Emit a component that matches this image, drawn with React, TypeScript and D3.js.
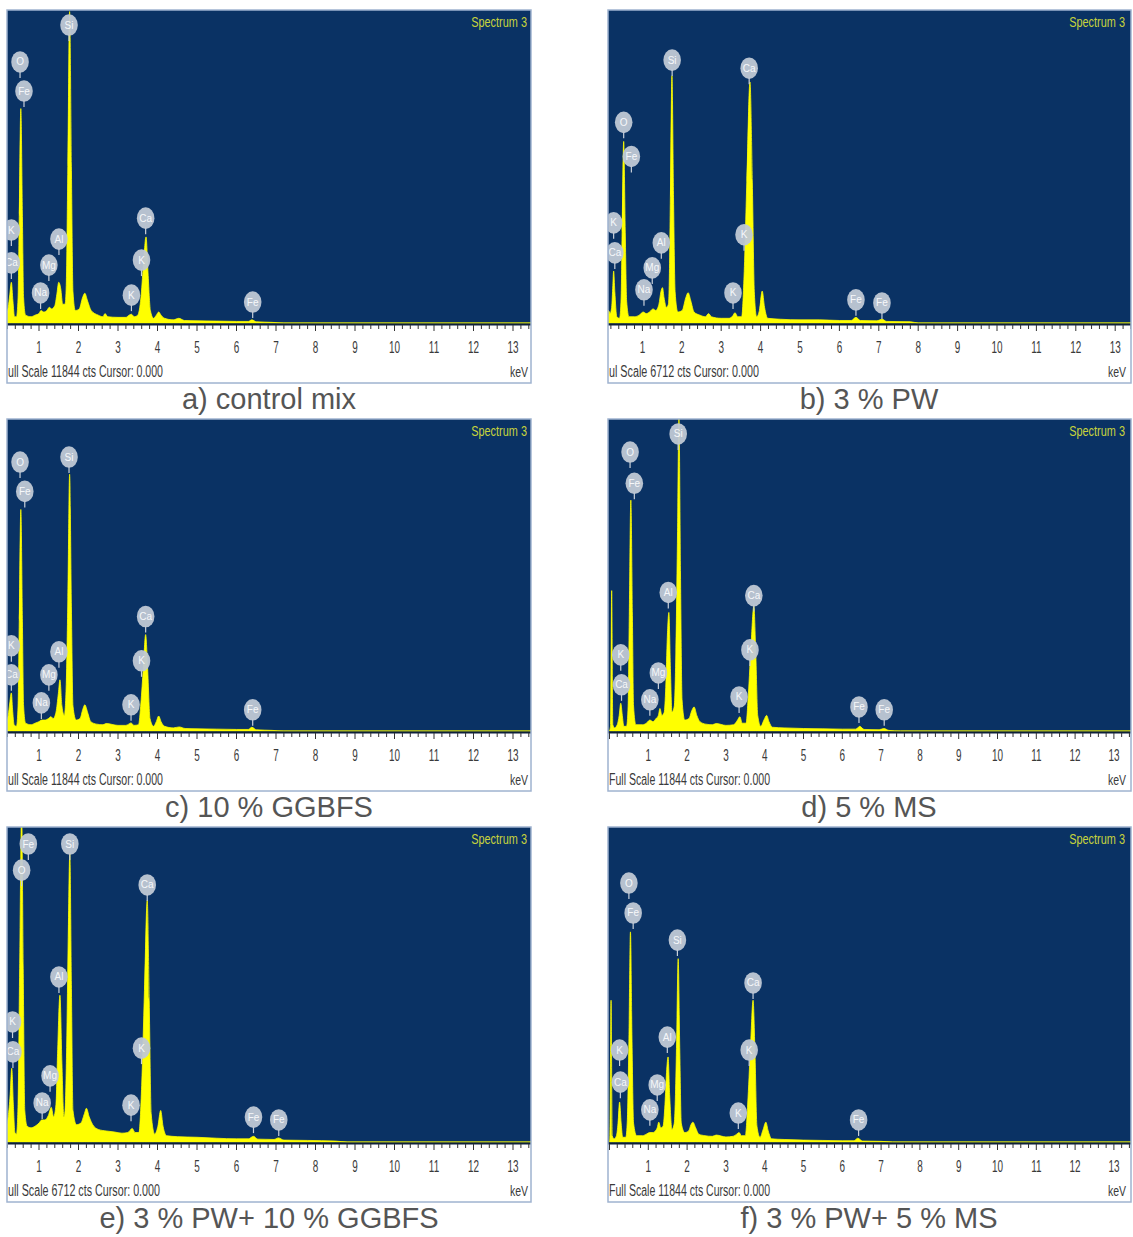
import React from 'react';
import * as d3 from 'd3';

// ---------- DATA ----------
const captions = ['a) control mix', 'b) 3 % PW', 'c) 10 % GGBFS', 'd) 5 % MS', 'e) 3 % PW+ 10 % GGBFS', 'f) 3 % PW+ 5 % MS'];
// status line as visible in each (cropped) panel
const statusText = [
  'ull Scale 11844 cts Cursor: 0.000',
  'ul Scale 6712 cts Cursor: 0.000',
  'ull Scale 11844 cts Cursor: 0.000',
  'Full Scale 11844 cts Cursor: 0.000',
  'ull Scale 6712 cts Cursor: 0.000',
  'Full Scale 11844 cts Cursor: 0.000',
];
const tickKeV = [0, 1, 2, 3, 4, 5, 6, 7, 8, 9, 10, 11, 12, 13];

// spectra: [keV, % of full scale]
const specA: [number, number][] = [
  [0.0, 0], [0.16, 3], [0.22, 5], [0.26, 9], [0.30, 13], [0.34, 7], [0.38, 2], [0.43, 2], [0.47, 8], [0.5, 34], [0.54, 68.5], [0.58, 34], [0.61, 8], [0.66, 2.5],
  [0.8, 2], [0.9, 2.5], [1.0, 3], [1.05, 4], [1.12, 3.5], [1.2, 4], [1.26, 5], [1.32, 4.5], [1.4, 5.5], [1.45, 9], [1.5, 13], [1.55, 11], [1.6, 6], [1.66, 6],
  [1.69, 12], [1.73, 50], [1.775, 99.5], [1.82, 50], [1.86, 10], [1.92, 4], [2.02, 4.5], [2.1, 8], [2.16, 9.5], [2.23, 7], [2.32, 4], [2.5, 2.5], [2.62, 2], [2.67, 3], [2.74, 2],
  [3.0, 1.8], [3.2, 1.8], [3.28, 2.5], [3.34, 2.8], [3.41, 2], [3.5, 2.5], [3.58, 8], [3.64, 18], [3.71, 27.5], [3.76, 16], [3.82, 4], [3.9, 1.5], [3.97, 2.5],
  [4.03, 3.5], [4.09, 2.5], [4.18, 1.5], [4.4, 1], [4.54, 1.5], [4.68, 0.8], [5.0, 0.7], [5.5, 0.6], [6.0, 0.5], [6.3, 0.5], [6.39, 1.0], [6.5, 0.4], [6.9, 0.2], [7.2, 0], [13.6, 0],
];
const specB: [number, number][] = [
  [0.0, 0], [0.14, 4], [0.18, 3], [0.22, 5], [0.25, 12], [0.27, 16.6], [0.3, 10], [0.35, 2], [0.42, 1.5], [0.46, 8], [0.485, 29], [0.525, 58], [0.565, 29], [0.6, 7], [0.66, 2],
  [0.8, 2], [0.92, 2.5], [1.02, 3.5], [1.1, 3], [1.18, 3.5], [1.27, 4.5], [1.34, 4], [1.42, 6], [1.47, 10], [1.51, 11.3], [1.55, 8], [1.61, 5], [1.66, 6],
  [1.68, 12], [1.71, 40], [1.75, 79], [1.79, 40], [1.83, 10], [1.9, 3.5], [2.01, 4], [2.1, 8], [2.16, 9.7], [2.23, 7], [2.31, 3.5], [2.46, 2.5], [2.6, 2], [2.68, 3], [2.75, 2],
  [3.0, 1.5], [3.2, 1.5], [3.29, 2.2], [3.35, 3.3], [3.42, 2], [3.52, 2], [3.58, 15], [3.65, 45], [3.73, 77], [3.79, 45], [3.84, 10], [3.9, 2], [3.97, 4], [4.04, 10.2], [4.1, 5],
  [4.18, 1.5], [4.5, 1.2], [5.0, 1], [5.5, 1], [6.0, 0.8], [6.3, 0.8], [6.42, 1.8], [6.53, 0.8], [6.95, 0.7], [7.08, 1.2], [7.2, 0.5], [7.8, 0.4], [8.0, 0], [13.6, 0],
];
const specC: [number, number][] = [
  [0.0, 0], [0.16, 3], [0.22, 5], [0.26, 9], [0.30, 12.2], [0.33, 7], [0.37, 2], [0.43, 1.5], [0.47, 8], [0.5, 35], [0.54, 71], [0.58, 35], [0.61, 8], [0.66, 2.5],
  [0.8, 2], [0.9, 2.5], [1.0, 3], [1.07, 3.5], [1.15, 3.5], [1.24, 4], [1.3, 4.6], [1.36, 4], [1.43, 6], [1.49, 12], [1.53, 16.4], [1.58, 8], [1.64, 5],
  [1.69, 15], [1.73, 42], [1.775, 82.3], [1.82, 40], [1.86, 8], [1.94, 3.5], [2.04, 4], [2.11, 7], [2.16, 8.4], [2.23, 6], [2.31, 3], [2.46, 2.2], [2.62, 2], [2.7, 2.4],
  [3.0, 1.8], [3.2, 1.8], [3.27, 2.2], [3.33, 2.6], [3.4, 1.8], [3.52, 2], [3.58, 9], [3.64, 20], [3.7, 30.9], [3.75, 20], [3.81, 4], [3.9, 1.5], [3.97, 3],
  [4.03, 4.8], [4.09, 3], [4.18, 1.5], [4.4, 1], [4.55, 1.3], [4.7, 0.8], [5.0, 0.7], [5.5, 0.6], [6.0, 0.5], [6.3, 0.5], [6.39, 1.2], [6.5, 0.4], [6.9, 0.2], [7.2, 0], [13.6, 0],
];
const specD: [number, number][] = [
  [0.0, 0], [0.03, 2], [0.056, 45], [0.085, 2], [0.13, 1], [0.2, 2], [0.25, 5], [0.29, 8.9], [0.33, 5], [0.37, 1.5], [0.44, 1.5], [0.48, 8], [0.51, 37], [0.55, 74], [0.59, 37], [0.62, 8],
  [0.68, 2], [0.85, 2], [0.95, 2.5], [1.04, 3.5], [1.12, 3], [1.2, 4], [1.26, 5], [1.3, 7.2], [1.35, 5], [1.41, 6], [1.45, 14], [1.49, 30], [1.53, 38], [1.57, 20], [1.61, 6],
  [1.67, 8], [1.71, 25], [1.75, 60], [1.79, 100], [1.83, 50], [1.87, 10], [1.94, 3.5], [2.05, 4], [2.12, 6.5], [2.18, 7.7], [2.25, 5], [2.33, 3], [2.48, 2.2], [2.65, 2], [2.75, 2.4],
  [3.0, 1.8], [3.2, 2], [3.3, 3.5], [3.36, 4.6], [3.42, 2.5], [3.52, 2.5], [3.58, 12], [3.65, 28], [3.72, 40], [3.77, 25], [3.82, 5], [3.9, 1.5], [3.98, 3.5], [4.05, 5], [4.11, 3],
  [4.2, 1.2], [4.5, 1], [5.0, 0.8], [5.5, 0.7], [6.0, 0.6], [6.35, 0.6], [6.45, 1.5], [6.56, 0.5], [6.95, 0.4], [7.07, 0.8], [7.2, 0.2], [7.5, 0], [13.6, 0],
];
const specE: [number, number][] = [
  [0.0, 0], [0.16, 4], [0.22, 8], [0.27, 15], [0.31, 23.4], [0.35, 12], [0.39, 3], [0.43, 2.5], [0.47, 12], [0.51, 55], [0.56, 105], [0.6, 55], [0.64, 10], [0.7, 5],
  [0.8, 4.5], [0.9, 5], [1.0, 6], [1.07, 7], [1.15, 7], [1.24, 8.5], [1.31, 11], [1.37, 8], [1.43, 12], [1.47, 28], [1.53, 46.6], [1.58, 25], [1.63, 8],
  [1.66, 10], [1.7, 30], [1.74, 65], [1.78, 91.6], [1.82, 50], [1.86, 10], [1.95, 5.5], [2.06, 6], [2.15, 9], [2.2, 10.7], [2.27, 8], [2.36, 5.5], [2.5, 4], [2.7, 3.5], [2.9, 3.2],
  [3.1, 2.8], [3.25, 3], [3.36, 4.3], [3.43, 3], [3.53, 3], [3.6, 18], [3.67, 48], [3.74, 76.7], [3.79, 45], [3.84, 9], [3.93, 2.5], [4.01, 5], [4.08, 10], [4.14, 5],
  [4.23, 2], [4.5, 1.7], [5.0, 1.5], [5.5, 1.2], [6.0, 1], [6.3, 1], [6.43, 1.8], [6.54, 0.9], [6.95, 0.8], [7.06, 1.3], [7.2, 0.6], [7.8, 0.5], [8.5, 0.3], [8.8, 0], [13.6, 0],
];
const specF: [number, number][] = [
  [0.0, 0], [0.01, 2], [0.04, 45], [0.07, 2], [0.12, 1], [0.18, 2], [0.22, 6], [0.26, 12.7], [0.3, 6], [0.34, 1.5], [0.42, 1.5], [0.46, 7], [0.5, 32], [0.54, 66.7], [0.58, 32], [0.62, 6],
  [0.7, 2], [0.85, 2], [0.95, 2.5], [1.04, 3], [1.12, 3], [1.18, 3.5], [1.23, 4.5], [1.27, 6.3], [1.32, 4.5], [1.38, 5], [1.43, 12], [1.47, 22], [1.51, 27], [1.55, 15], [1.61, 4],
  [1.67, 6], [1.7, 15], [1.73, 32], [1.77, 58.2], [1.81, 30], [1.85, 6], [1.94, 3], [2.04, 3.5], [2.1, 5.5], [2.15, 6.3], [2.22, 4.5], [2.3, 2.5], [2.46, 2], [2.65, 1.8], [2.75, 2.2],
  [3.0, 1.6], [3.18, 1.8], [3.28, 2.5], [3.34, 3], [3.4, 2], [3.5, 2], [3.57, 14], [3.64, 32], [3.7, 45], [3.75, 28], [3.8, 5], [3.88, 1.5], [3.96, 4], [4.03, 6.3], [4.09, 3.5],
  [4.18, 1], [4.5, 0.8], [5.0, 0.6], [5.5, 0.5], [6.0, 0.4], [6.3, 0.4], [6.4, 1.2], [6.52, 0.3], [7.0, 0.2], [7.3, 0], [13.6, 0],
];

// element labels: [element, keV, level (% of full scale)]
const labelsA: [string, number, number][] = [
  ['K', 0.30, 29.7], ['Ca', 0.30, 19.2], ['O', 0.52, 83.4], ['Fe', 0.62, 74.1], ['Si', 1.76, 95.2], ['Al', 1.505, 26.8], ['Mg', 1.25, 18.5], ['Na', 1.04, 9.6],
  ['K', 3.34, 8.9], ['Ca', 3.70, 33.5], ['K', 3.595, 20.1], ['Fe', 6.41, 6.7],
];
const labelsB: [string, number, number][] = [
  ['K', 0.27, 32], ['Ca', 0.30, 22.4], ['O', 0.525, 64.1], ['Fe', 0.72, 53.2], ['Si', 1.755, 84], ['Al', 1.48, 25.6], ['Mg', 1.25, 17.6], ['Na', 1.04, 10.6],
  ['K', 3.30, 9.6], ['Ca', 3.71, 81.4], ['K', 3.58, 28.2], ['Fe', 6.42, 7.4], ['Fe', 7.08, 6.4],
];
const labelsC: [string, number, number][] = [
  ['K', 0.30, 27.3], ['Ca', 0.30, 18], ['O', 0.52, 86.2], ['Fe', 0.64, 76.8], ['Si', 1.76, 87.8], ['Al', 1.505, 25.4], ['Mg', 1.25, 18], ['Na', 1.06, 9],
  ['K', 3.33, 8.4], ['Ca', 3.70, 36.7], ['K', 3.595, 22.5], ['Fe', 6.41, 6.8],
];
const labelsD: [string, number, number][] = [
  ['K', 0.29, 24.4], ['Ca', 0.31, 14.8], ['O', 0.53, 89.4], ['Fe', 0.64, 79.4], ['Si', 1.77, 95.2], ['Al', 1.515, 44.4], ['Mg', 1.26, 18.6], ['Na', 1.04, 10],
  ['K', 3.34, 10.9], ['Ca', 3.72, 43.4], ['K', 3.62, 26], ['Fe', 6.43, 7.7], ['Fe', 7.08, 6.8],
];
const labelsE: [string, number, number][] = [
  ['K', 0.33, 38.1], ['Ca', 0.34, 28.6], ['Fe', 0.73, 94.6], ['O', 0.56, 86.3], ['Si', 1.78, 94.6], ['Al', 1.505, 52.4], ['Mg', 1.28, 21], ['Na', 1.08, 12.4],
  ['K', 3.33, 11.7], ['Ca', 3.74, 81.6], ['K', 3.595, 29.8], ['Fe', 6.43, 7.9], ['Fe', 7.07, 7],
];
const labelsF: [string, number, number][] = [
  ['K', 0.26, 29.2], ['Ca', 0.28, 19], ['O', 0.50, 82.2], ['Fe', 0.61, 72.7], ['Si', 1.75, 64.1], ['Al', 1.49, 33.3], ['Mg', 1.23, 18.1], ['Na', 1.04, 10.2],
  ['K', 3.32, 9.2], ['Ca', 3.70, 50.5], ['K', 3.60, 29.2], ['Fe', 6.42, 7],
];

const spectra = [specA, specB, specC, specD, specE, specF];
const labelSets = [labelsA, labelsB, labelsC, labelsD, labelsE, labelsF];

// ---------- LAYOUT ----------
const rows = [
  { top: 10, base: 323 },
  { top: 419, base: 731 },
  { top: 827, base: 1142 },
];
const cols = [
  { left: 7, right: 531, x0: -0.5, ppk: 39.5, capX: 269, edgePad: 0 },
  { left: 608, right: 1131, x0: 603, ppk: 39.4, capX: 869, edgePad: 2 },
  { left: 608, right: 1131, x0: 609.5, ppk: 38.8, capX: 869, edgePad: 2 },
];
const colFor = [0, 1, 0, 2, 0, 2];
const statusLen = [155, 150, 155, 161, 152, 161];

const NAVY = '#0a3264';
const YELLOW = '#ffff00';
const FONT = 'Liberation Sans, Arial, sans-serif';

function Panel({ idx }: { idx: number }) {
  const r = rows[Math.floor(idx / 2)];
  const c = cols[colFor[idx]];
  const x = d3.scaleLinear().domain([0, 13]).range([c.x0, c.x0 + 13 * c.ppk]);
  const y = d3.scaleLinear().domain([0, 100]).range([r.base, r.top]);
  const data = spectra[idx];
  const area = d3.area<[number, number]>()
    .x((d) => x(d[0]))
    .y0(r.base)
    .y1((d) => y(d[1]))
    .curve(d3.curveMonotoneX);
  const clipId = `clip${idx}`;
  const plotClip = `pclip${idx}`;
  const stripBottom = r.base + 60;
  const minor = d3.range(0, 13.61, 0.2);
  const w = c.right - c.left;
  const visibleTicks = tickKeV.filter((k) => x(k) - 4 >= c.left);
  return (
    <g>
      <defs>
        <clipPath id={clipId}>
          <rect x={c.left} y={r.top - 2} width={w} height={stripBottom - r.top + 4} />
        </clipPath>
        <clipPath id={plotClip}>
          <rect x={c.left} y={r.top} width={w} height={r.base - r.top + 1} />
        </clipPath>
      </defs>
      <g clipPath={`url(#${clipId})`}>
        <rect x={c.left} y={r.top} width={w} height={r.base - r.top + 3} fill={NAVY} />
        <path d={area(data) || ''} fill={YELLOW} stroke={YELLOW} strokeWidth={0.8} strokeLinejoin="round" clipPath={`url(#${plotClip})`} />
        <rect x={c.left} y={r.base + 2} width={w} height={stripBottom - r.base - 2} fill="#ffffff" />
        <line x1={c.left} x2={c.right} y1={r.base + 1.5} y2={r.base + 1.5} stroke="#0d1f3a" strokeWidth={2} />
        {minor.map((k, i) => {
          const major = Math.abs(k - Math.round(k)) < 0.01;
          return (
            <line key={i} x1={x(k)} x2={x(k)} y1={r.base + 2} y2={r.base + (major ? 8 : 6)} stroke="#333" strokeWidth={1} />
          );
        })}
      </g>
      {visibleTicks.map((k) => (
        <text key={k} transform={`translate(${x(k)},${r.base + 30}) scale(0.62,1)`} textAnchor="middle" fontSize={16}
          fontFamily={FONT} fill="#3a3a3a">{k}</text>
      ))}
      <text x={c.left + 1} y={r.base + 54} fontSize={16} fontFamily={FONT} fill="#3a3a3a"
        textLength={statusLen[idx]} lengthAdjust="spacingAndGlyphs">
        {statusText[idx]}
      </text>
      <text transform={`translate(${c.right - 3 - c.edgePad},${r.base + 54}) scale(0.7,1)`} fontSize={15} textAnchor="end"
        fontFamily={FONT} fill="#3a3a3a">keV</text>
      <text transform={`translate(${c.right - 4 - c.edgePad},${r.top + 17}) scale(0.78,1)`} fontSize={14} textAnchor="end"
        fontFamily={FONT} fill="#c8d43c">Spectrum 3</text>
      <g clipPath={`url(#${plotClip})`}>
        {labelSets[idx].map(([el, kev, lvl], i) => {
          const cx = x(kev);
          const cy = y(lvl);
          return (
            <g key={i}>
              <line x1={cx} x2={cx} y1={cy + 9} y2={cy + 16} stroke="#c9d0da" strokeWidth={1.2} />
              <ellipse cx={cx} cy={cy} rx={8.8} ry={10.8} fill="#c0c9d5" opacity={0.95} filter="url(#soft)" />
              <text x={cx} y={cy + 3.5} textAnchor="middle" fontSize={10} fontFamily={FONT} fill="#f6f8fa">{el}</text>
            </g>
          );
        })}
      </g>
      <rect x={c.left} y={r.top} width={w} height={stripBottom - r.top} fill="none" stroke="#9fb3cf" strokeWidth={1.5} />
      <text x={c.capX} y={r.base + 86} textAnchor="middle" fontSize={29} fontFamily={FONT} fill="#555555">
        {captions[idx]}
      </text>
    </g>
  );
}

export default function App() {
  return (
    <svg width={1133} height={1237} style={{ position: 'absolute', left: 0, top: 0, display: 'block', background: '#fff' }}>
      <defs>
        <filter id="soft" x="-30%" y="-30%" width="160%" height="160%">
          <feGaussianBlur stdDeviation={0.7} />
        </filter>
      </defs>
      <rect x={0} y={0} width={1133} height={1237} fill="#ffffff" />
      {[0, 1, 2, 3, 4, 5].map((i) => <Panel key={i} idx={i} />)}
    </svg>
  );
}
